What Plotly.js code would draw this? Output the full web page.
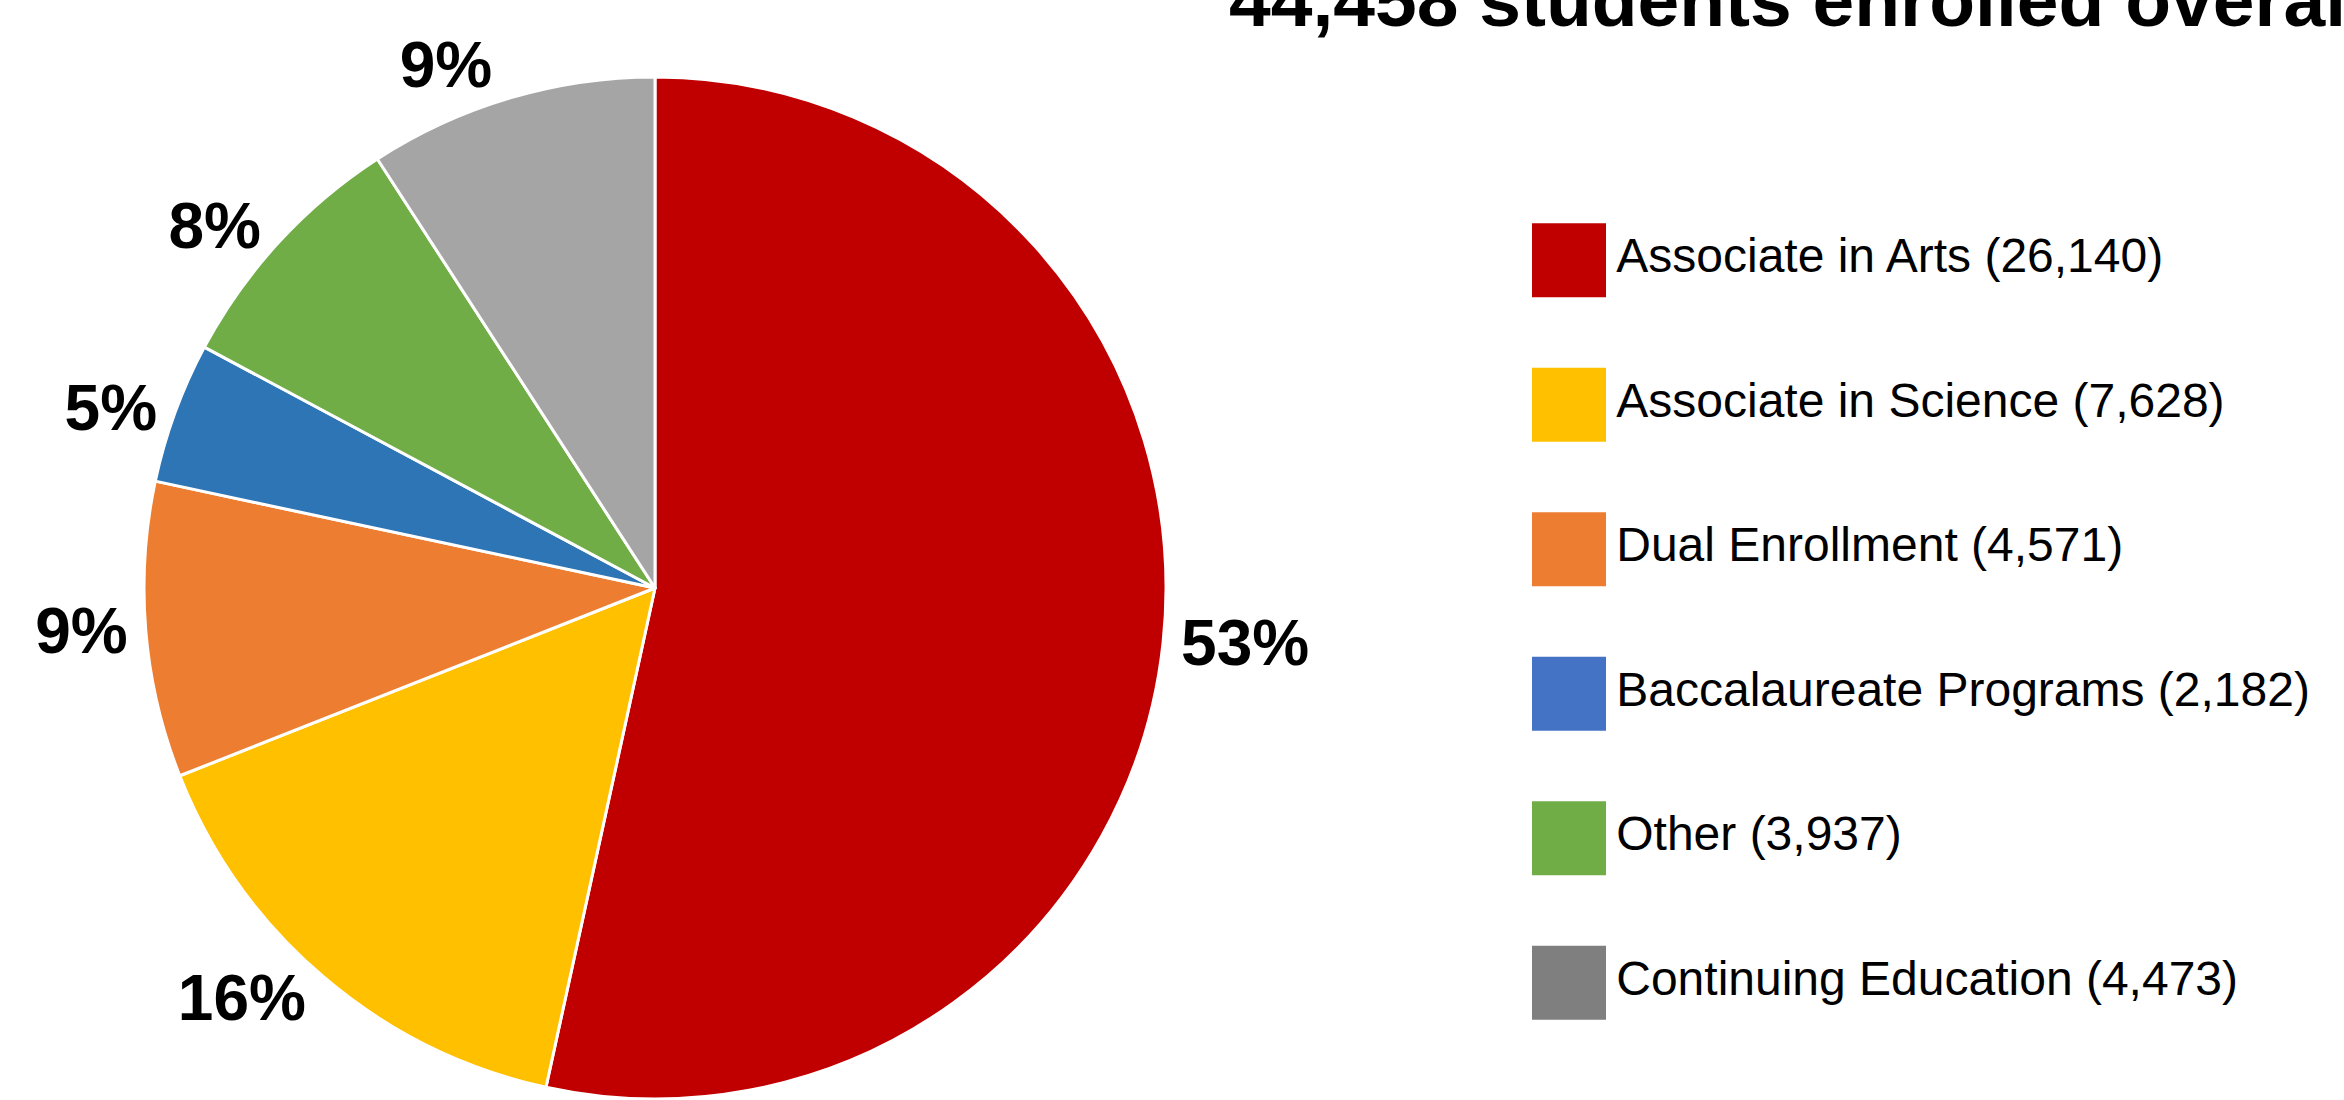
<!DOCTYPE html>
<html>
<head>
<meta charset="utf-8">
<script src="https://cdn.plot.ly/plotly-3.0.1.min.js"></script>
<style>
html,body{margin:0;padding:0;background:#fff;}
#chart{width:2344px;height:1100px;}
</style>
</head>
<body>
<div id="chart"></div>
<script>
// ---- data ----
const categories = ["Associate in Arts", "Associate in Science", "Dual Enrollment",
                    "Baccalaureate Programs", "Other", "Continuing Education"];
const enrolled = [26140, 7628, 4571, 2182, 3937, 4473];
const percentLabels = ["53%", "16%", "9%", "5%", "8%", "9%"];
const sliceColors = ["#C00000", "#FFC000", "#ED7D31", "#2E75B6", "#70AD47", "#A5A5A5"];
const legendColors = ["#C00000", "#FFC000", "#ED7D31", "#4472C4", "#70AD47", "#7F7F7F"];
const titleText = "44,458 students enrolled overall";

const W = 2344, H = 1100;
const FONT = "Liberation Sans, Arial, sans-serif";

const legendText = categories.map((c, i) => c + " (" + enrolled[i].toLocaleString("en-US") + ")");

const pie = {
  type: "pie",
  labels: categories,
  values: enrolled,
  text: percentLabels,
  textinfo: "text",
  textposition: "outside",
  sort: false,
  direction: "clockwise",
  rotation: 0,
  marker: {colors: sliceColors, line: {color: "#ffffff", width: 3}},
  outsidetextfont: {family: FONT, size: 64, color: "#000000", weight: "bold"},
  domain: {x: [144 / W, 1166 / W], y: [1 / H, 1023 / H]},
  showlegend: false,
  hoverinfo: "label+value+percent"
};

const legendTrace = {
  type: "scatter",
  mode: "markers+text",
  x: categories.map(() => 0),
  y: categories,
  text: legendText,
  textposition: "middle right",
  textfont: {family: FONT, size: 48, color: "#000000"},
  marker: {symbol: "square", size: 74, color: legendColors, line: {width: 0}},
  cliponaxis: false,
  showlegend: false,
  hoverinfo: "text"
};

const layout = {
  width: W, height: H,
  margin: {l: 0, r: 0, t: 0, b: 0},
  paper_bgcolor: "#ffffff",
  plot_bgcolor: "rgba(0,0,0,0)",
  showlegend: false,
  title: {
    text: "<b>" + titleText + "</b>",
    font: {family: FONT, size: 75, color: "#000000"},
    x: 1229 / W, xanchor: "left", xref: "container",
    y: 1, yanchor: "middle", yref: "container"
  },
  xaxis: {domain: [1569 / W, 1], range: [0, 10], visible: false, fixedrange: true},
  yaxis: {domain: [1 - 1055 / H, 1 - 188 / H], type: "category",
          range: [categories.length - 0.5, -0.5], autorange: false,
          visible: false, fixedrange: true}
};

Plotly.newPlot("chart", [pie, legendTrace], layout, {displayModeBar: false, staticPlot: true});
</script>
</body>
</html>
